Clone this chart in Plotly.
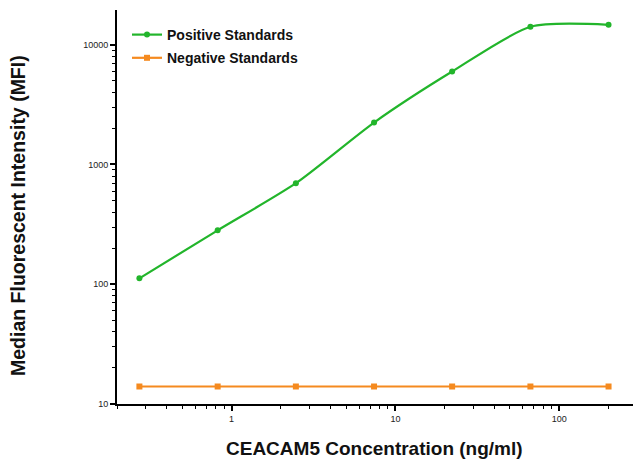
import plotly.graph_objects as go
import math

# Data
concentration = [0.274, 0.823, 2.47, 7.41, 22.2, 66.7, 200]
positive_mfi = [112, 282, 698, 2240, 5970, 14120, 14670]
negative_mfi = [14, 14, 14, 14, 14, 14, 14]

x_tickvals = [1, 10, 100]
x_ticktext = ["1", "10", "100"]
y_tickvals = [10, 100, 1000, 10000]
y_ticktext = ["10", "100", "1000", "10000"]

GREEN = "#22b52b"
ORANGE = "#f58a1f"
FONT = "Arial, Liberation Sans, sans-serif"

fig = go.Figure()
fig.add_trace(go.Scatter(
    x=concentration, y=positive_mfi, name="Positive Standards",
    mode="lines+markers", line=dict(color=GREEN, width=2.2, shape="spline", smoothing=0.7),
    marker=dict(color=GREEN, size=6, symbol="circle"), legendgroup="a",
))
fig.add_trace(go.Scatter(
    x=concentration, y=negative_mfi, name="Negative Standards",
    mode="lines+markers", line=dict(color=ORANGE, width=2.2),
    marker=dict(color=ORANGE, size=6, symbol="square"), legendgroup="b",
))

W, H = 633, 463
ml, mr, mt, mb = 117, 0, 10, 59
PW, PH = W - ml - mr, H - mt - mb

fig.update_layout(
    width=W, height=H,
    margin=dict(l=ml, r=mr, t=mt, b=mb),
    paper_bgcolor="white", plot_bgcolor="white",
    font=dict(family=FONT, color="black"),
    showlegend=True,
    legend=dict(
        x=(127 - ml) / PW, y=1 - (19 - mt) / PH,
        xanchor="left", yanchor="top",
        font=dict(family=FONT, size=14, color="#111111", weight="bold"),
        bgcolor="rgba(0,0,0,0)", itemwidth=30,
        traceorder="grouped", tracegroupgap=2,
    ),
    xaxis=dict(
        type="log",
        range=[math.log10(0.2), math.log10(282)],
        showline=True, linecolor="black", linewidth=2,
        showgrid=False, zeroline=False,
        ticks="outside", ticklen=5, tickwidth=1.5, tickcolor="black",
        tickvals=x_tickvals, ticktext=x_ticktext,
        tickfont=dict(family=FONT, size=9, color="#222222"),
        minor=dict(ticks="outside", ticklen=3, tickwidth=1.2, tickcolor="black", dtick="D1", showgrid=False),
    ),
    yaxis=dict(
        type="log",
        range=[1, 4.29],
        showline=True, linecolor="black", linewidth=2,
        showgrid=False, zeroline=False,
        ticks="outside", ticklen=5, tickwidth=1.5, tickcolor="black",
        tickvals=y_tickvals, ticktext=y_ticktext,
        tickfont=dict(family=FONT, size=9, color="#222222"),
        minor=dict(ticks="outside", ticklen=3, tickwidth=1.2, tickcolor="black", dtick="D1", showgrid=False),
    ),
    annotations=[
        dict(text="<b>CEACAM5 Concentration (ng/ml)</b>", xref="paper", yref="paper",
             x=(374 - ml) / PW, y=-(448 - (H - mb)) / PH,
             xanchor="center", yanchor="middle", showarrow=False,
             font=dict(family=FONT, size=19, color="#111111")),
        dict(text="<b>Median Fluorescent Intensity (MFI)</b>", xref="paper", yref="paper",
             x=-(ml - 18) / PW, y=1 - (216 - mt) / PH,
             xanchor="center", yanchor="middle", showarrow=False, textangle=-90,
             font=dict(family=FONT, size=19.5, color="#111111")),
    ],
)

fig.write_html(
    "out.html",
    config={"displayModeBar": False},
    post_script="document.body.style.margin='0';document.body.style.overflow='hidden';",
)
